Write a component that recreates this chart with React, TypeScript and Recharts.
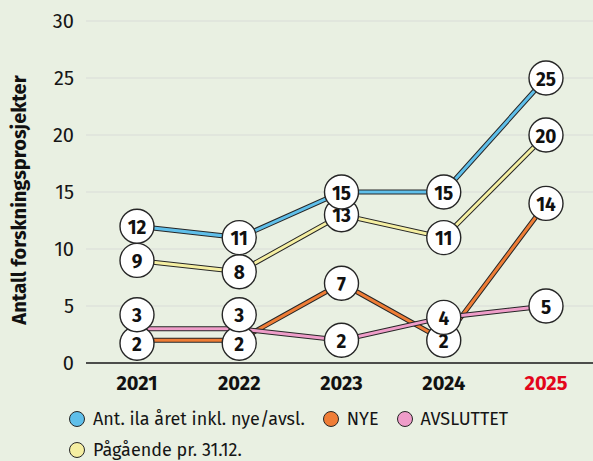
import React from 'react';
import { LineChart, Line, XAxis, YAxis, CartesianGrid, Legend, LabelList, Label } from 'recharts';

const years = ['2021', '2022', '2023', '2024', '2025'];
const totalValues = [12, 11, 15, 15, 25]; // Ant. ila året inkl. nye/avsl.
const ongoingValues = [9, 8, 13, 11, 20]; // Pågående pr. 31.12.
const newValues = [2, 2, 7, 2, 14]; // NYE
const closedValues = [3, 3, 2, 4, 5]; // AVSLUTTET
const yTicks = [0, 5, 10, 15, 20, 25, 30];

const FONT = "'Fira Sans', 'Open Sans', sans-serif";
const OUTLINE = '#262626';

const series = [
  { key: 'total', name: 'Ant. ila året inkl. nye/avsl.', color: '#5fbfea' },
  { key: 'nye', name: 'NYE', color: '#ef7d36' },
  { key: 'avsl', name: 'AVSLUTTET', color: '#ef9dc9' },
  { key: 'paag', name: 'Pågående pr. 31.12.', color: '#f5efa2' },
];

const data = years.map((year, i) => ({
  year,
  total: totalValues[i],
  paag: ongoingValues[i],
  nye: newValues[i],
  avsl: closedValues[i],
}));

// push NYE / AVSLUTTET bubbles apart when the values nearly collide
const nudge = (key: string, i: number) => {
  const gap = Math.abs(closedValues[i] - newValues[i]);
  if (gap > 1) return 0;
  if (key === 'avsl') return -14;
  if (key === 'nye') return 3;
  return 0;
};

const bubble = (key: string) => (props: any) => {
  const { x, y, value, index } = props;
  const cy = y + nudge(key, index);
  return (
    <g>
      <circle cx={x} cy={cy} r={17} fill="#fff" stroke={OUTLINE} strokeWidth={1.4} />
      <text
        x={x}
        y={cy + 1}
        textAnchor="middle"
        dominantBaseline="central"
        fontFamily={FONT}
        fontWeight={700}
        fontSize={19}
        fill="#111"
      >
        {value}
      </text>
    </g>
  );
};

const YearTick = ({ x, y, payload }: any) => (
  <text
    x={x}
    y={y + 20}
    textAnchor="middle"
    dominantBaseline="central"
    fontFamily={FONT}
    fontWeight={700}
    fontSize={20}
    fill={payload.value === '2025' ? '#e3051b' : '#111'}
  >
    {payload.value}
  </text>
);

const legendRows = [
  [series[0], series[1], series[2]],
  [series[3]],
];

const LegendContent = () => (
  <div style={{ paddingLeft: 69, fontFamily: FONT, fontSize: 18, color: '#151515' }}>
    {legendRows.map((row, r) => (
      <div key={r} style={{ display: 'flex', alignItems: 'center', height: 31 }}>
        {row.map((s) => (
          <div key={s.key} style={{ display: 'flex', alignItems: 'center', marginRight: 18 }}>
            <span
              style={{
                display: 'inline-block',
                width: 14,
                height: 14,
                borderRadius: '50%',
                background: s.color,
                border: `1.3px solid ${OUTLINE}`,
                marginRight: 8,
              }}
            />
            <span>{s.name}</span>
          </div>
        ))}
      </div>
    ))}
  </div>
);

const drawOrder = ['paag', 'total', 'nye', 'avsl'];
const colorOf = (key: string) => series.find((s) => s.key === key)!.color;

export default function App() {
  return (
    <div
      style={{
        position: 'absolute',
        left: 0,
        top: 0,
        width: 593,
        height: 461,
        background: '#e9f0e2',
      }}
    >
      <LineChart width={593} height={461} data={data} margin={{ top: 21, right: 0, left: 0, bottom: 0 }}>
        <CartesianGrid horizontal vertical={false} stroke="#d9dcd8" strokeWidth={1.2} />
        <XAxis
          dataKey="year"
          height={40}
          padding={{ left: 51, right: 47 }}
          axisLine={{ stroke: '#1a1a1a', strokeWidth: 1.5 }}
          tickLine={false}
          tickSize={0}
          tickMargin={0}
          tick={<YearTick />}
          interval={0}
        />
        <YAxis
          width={86}
          domain={[0, 30]}
          ticks={yTicks}
          axisLine={false}
          tickLine={false}
          tickSize={0}
          tickMargin={12}
          tick={{ fontFamily: FONT, fontSize: 20, fill: '#151515' }}
        >
          <Label
            content={() => (
              <text
                x={19}
                y={200}
                transform="rotate(-90 19 200)"
                textAnchor="middle"
                dominantBaseline="central"
                fontFamily={FONT}
                fontWeight={700}
                fontSize={20}
                fill="#111"
              >
                Antall forskningsprosjekter
              </text>
            )}
          />
        </YAxis>
        <Legend verticalAlign="bottom" height={58} content={<LegendContent />} />
        {drawOrder.map((key) => [
          <Line
            key={`${key}-outline`}
            dataKey={key}
            stroke={OUTLINE}
            strokeWidth={5}
            dot={false}
            activeDot={false}
            isAnimationActive={false}
            strokeLinejoin="miter"
          />,
          <Line
            key={`${key}-fill`}
            dataKey={key}
            stroke={colorOf(key)}
            strokeWidth={3}
            dot={false}
            activeDot={false}
            isAnimationActive={false}
            strokeLinejoin="miter"
          />,
        ])}
        {drawOrder.map((key) => (
          <Line
            key={`${key}-labels`}
            dataKey={key}
            stroke="none"
            dot={false}
            activeDot={false}
            isAnimationActive={false}
          >
            <LabelList dataKey={key} content={bubble(key)} />
          </Line>
        ))}
      </LineChart>
    </div>
  );
}
